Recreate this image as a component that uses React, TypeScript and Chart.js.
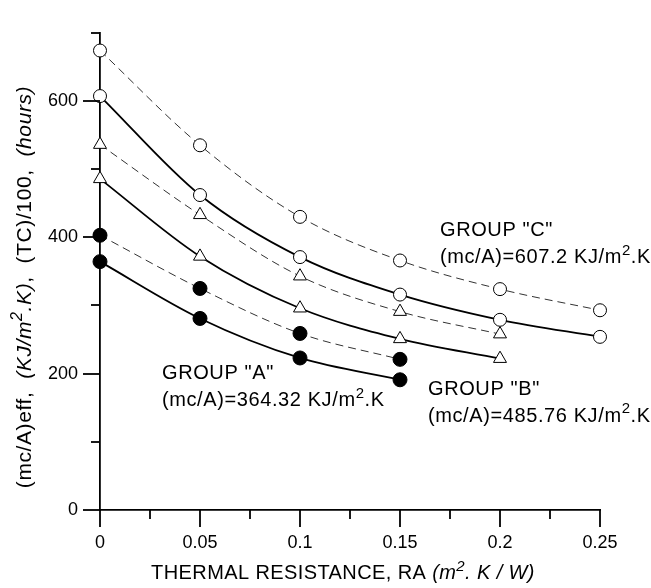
import React, { useEffect, useRef } from "react";
import { Chart, registerables } from "chart.js";

Chart.register(...registerables);

// ---- data ----
const xValues = [0, 0.05, 0.1, 0.15, 0.2, 0.25];
const groupCDashed = [674, 535, 430, 366, 324, 293];
const groupCSolid = [607.2, 462, 371, 316, 279, 254];
const groupBDashed = [536, 433, 343, 291, 258];
const groupBSolid = [485.76, 372, 296, 251, 222];
const groupADashed = [403, 325, 259, 221];
const groupASolid = [364.32, 281, 223, 191];
const yTickLabels = [0, 200, 400, 600];
const groupNames = ['GROUP "A"', 'GROUP "B"', 'GROUP "C"'];
const groupMc = ["364.32", "485.76", "607.2"];

const FONT = '"Liberation Sans", Arial, Helvetica, sans-serif';

type Part = { text: string; italic?: boolean; sup?: boolean };

function partFont(p: Part, size: number) {
  const s = p.sup ? Math.round(size * 0.75) : size;
  return `${p.italic ? "italic " : ""}${s}px ${FONT}`;
}
function measureRich(ctx: CanvasRenderingContext2D, parts: Part[], size: number) {
  let w = 0;
  for (const p of parts) {
    ctx.font = partFont(p, size);
    w += ctx.measureText(p.text).width;
  }
  return w;
}
function drawRich(ctx: CanvasRenderingContext2D, parts: Part[], x: number, y: number, size: number) {
  let cx = x;
  for (const p of parts) {
    ctx.font = partFont(p, size);
    ctx.fillText(p.text, cx, p.sup ? y - size * 0.42 : y);
    cx += ctx.measureText(p.text).width;
  }
}

const toPts = (ys: number[]) => ys.map((y, i) => ({ x: xValues[i], y }));

const decorPlugin = {
  id: "decor",
  afterDraw(chart: any) {
    const ctx: any = chart.ctx;
    const xs = chart.scales.x;
    const ys = chart.scales.y;
    const area = chart.chartArea;
    ctx.save();
    ctx.strokeStyle = "#000";
    ctx.lineWidth = 1.8;
    // y ticks (outside, left)
    for (let v = 0; v <= 700; v += 100) {
      const py = Math.round(ys.getPixelForValue(v));
      const len = v % 200 === 0 ? 17 : 9;
      ctx.beginPath();
      ctx.moveTo(area.left - len, py);
      ctx.lineTo(area.left, py);
      ctx.stroke();
    }
    // x ticks (outside, down)
    for (let i = 0; i <= 10; i++) {
      const v = i * 0.025;
      const px = Math.round(xs.getPixelForValue(v));
      const len = i % 2 === 0 ? 17 : 9;
      ctx.beginPath();
      ctx.moveTo(px, area.bottom);
      ctx.lineTo(px, area.bottom + len);
      ctx.stroke();
    }

    ctx.fillStyle = "#000";
    ctx.textAlign = "left";
    ctx.textBaseline = "alphabetic";
    const size = 20;
    // group labels
    ctx.letterSpacing = "0.6px";
    const anchors = [
      { x: 0.031, y: 192 },
      { x: 0.164, y: 169 },
      { x: 0.17, y: 402 },
    ];
    anchors.forEach((a, i) => {
      const px = xs.getPixelForValue(a.x);
      const py = ys.getPixelForValue(a.y);
      drawRich(ctx, [{ text: groupNames[i] }], px, py, size);
      drawRich(
        ctx,
        [
          { text: `(mc/A)=${groupMc[i]} KJ/m` },
          { text: "2", sup: true },
          { text: ".K" },
        ],
        px,
        py + 27,
        size
      );
    });

    // x axis title
    ctx.letterSpacing = "0.4px";
    const xt: Part[] = [
      { text: "THERMAL RESISTANCE, RA " },
      { text: "(m", italic: true },
      { text: "2", italic: true, sup: true },
      { text: ". K / W)", italic: true },
    ];
    const xw = measureRich(ctx, xt, size);
    drawRich(ctx, xt, 343 - xw / 2, 579, size);

    // y axis title
    ctx.letterSpacing = "0.6px";
    const yt: Part[] = [
      { text: "(mc/A)eff,  " },
      { text: "(KJ/m", italic: true },
      { text: "2", italic: true, sup: true },
      { text: ".K)", italic: true },
      { text: ",  (TC)/100,  " },
      { text: "(hours)", italic: true },
    ];
    const yw = measureRich(ctx, yt, 21);
    ctx.translate(31, 287);
    ctx.rotate(-Math.PI / 2);
    drawRich(ctx, yt, -yw / 2, 0, 21);
    ctx.letterSpacing = "0px";
    ctx.restore();
  },
};

export default function App() {
  const ref = useRef<HTMLCanvasElement | null>(null);
  useEffect(() => {
    if (!ref.current) return;
    const solid = { borderColor: "#000", borderWidth: 1.8 };
    const dashed = { borderColor: "#333", borderWidth: 1, borderDash: [8, 5] };
    const openCircle = {
      pointStyle: "circle",
      pointRadius: 6.5,
      pointBackgroundColor: "#fff",
      pointBorderColor: "#000",
      pointBorderWidth: 1,
    };
    const triangle = {
      pointStyle: "triangle",
      pointRadius: 7.5,
      pointBackgroundColor: "#fff",
      pointBorderColor: "#000",
      pointBorderWidth: 1,
    };
    const filled = {
      pointStyle: "circle",
      pointRadius: 7,
      pointBackgroundColor: "#000",
      pointBorderColor: "#000",
      pointBorderWidth: 1,
    };
    const common = { cubicInterpolationMode: "monotone", clip: false, fill: false };
    const chart = new Chart(ref.current, {
      type: "line",
      data: {
        datasets: [
          { label: "C dashed", data: toPts(groupCDashed), ...common, ...dashed, ...openCircle },
          { label: "C solid", data: toPts(groupCSolid), ...common, ...solid, ...openCircle },
          { label: "B dashed", data: toPts(groupBDashed), ...common, ...dashed, ...triangle },
          { label: "B solid", data: toPts(groupBSolid), ...common, ...solid, ...triangle },
          { label: "A dashed", data: toPts(groupADashed), ...common, ...dashed, ...filled },
          { label: "A solid", data: toPts(groupASolid), ...common, ...solid, ...filled },
        ] as any,
      },
      options: {
        responsive: false,
        animation: false,
        devicePixelRatio: 1,
        events: [],
        layout: { padding: { top: 14, right: 51, left: 0, bottom: 0 } },
        plugins: { legend: { display: false }, tooltip: { enabled: false } },
        scales: {
          x: {
            type: "linear",
            min: 0,
            max: 0.25,
            grid: { display: false, drawTicks: false },
            border: { display: true, color: "#000", width: 1.8 },
            ticks: {
              stepSize: 0.05,
              autoSkip: false,
              maxRotation: 0,
              padding: 22,
              color: "#000",
              font: { family: FONT, size: 18 },
              callback: (v: any) => String(Number(Number(v).toFixed(3))),
            },
            afterFit: (s: any) => {
              s.height = 78;
            },
          },
          y: {
            type: "linear",
            min: 0,
            max: 700,
            grid: { display: false, drawTicks: false },
            border: { display: true, color: "#000", width: 1.8 },
            ticks: {
              stepSize: 100,
              autoSkip: false,
              padding: 22,
              color: "#000",
              font: { family: FONT, size: 18 },
              callback: (v: any) => (yTickLabels.includes(Number(v)) ? String(v) : ""),
            },
            afterFit: (s: any) => {
              s.width = 100;
            },
          },
        },
      } as any,
      plugins: [decorPlugin],
    });
    return () => chart.destroy();
  }, []);
  return (
    <div style={{ position: "absolute", left: 0, top: 0, width: 651, height: 588, background: "#fff" }}>
      <canvas ref={ref} width={651} height={588} />
    </div>
  );
}
